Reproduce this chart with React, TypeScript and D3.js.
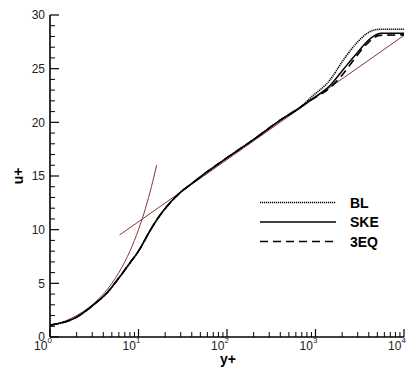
import React from "react";
import * as d3 from "d3";

const W = 414;
const H = 370;

// shared part of all three model profiles (y+, u+)
const commonY = [1, 2, 3, 4.5, 6, 8, 10, 13.5, 17, 22.7, 30, 40, 60, 100, 200, 400, 700];
const commonU = [1.1, 1.85, 2.9, 4.2, 5.5, 6.9, 8.0, 9.9, 11.2, 12.5, 13.5, 14.3, 15.4, 16.7, 18.4, 20.2, 21.5];

const blTailY = [867, 1459, 2061, 2922, 4130, 5355, 10000];
const blTailU = [22.25, 23.95, 25.8, 27.4, 28.45, 28.67, 28.67];

const skeTailY = [900, 1450, 2050, 2900, 4300, 5500, 10000];
const skeTailU = [22.15, 23.4, 24.9, 26.4, 27.9, 28.3, 28.3];

const eqTailY = [900, 1400, 2000, 2700, 3800, 5300, 10000];
const eqTailU = [22.1, 23.1, 24.4, 25.8, 27.3, 28.1, 28.15];

// law of the wall reference lines
const viscY = [1, 1.5, 2, 3, 4, 5, 6, 7, 8, 9, 10, 11, 12, 13, 14, 15, 16];
const viscU = [1, 1.5, 2, 3, 4, 5, 6, 7, 8, 9, 10, 11, 12, 13, 14, 15, 16];
const logY = [6.1, 10000];
const logU = [9.5, 28.1];

const seriesNames = ["BL", "SKE", "3EQ"];
const yTicks = [0, 5, 10, 15, 20, 25, 30];
const xDecades = [0, 1, 2, 3, 4];

const m = { left: 50, right: 404, top: 15, bottom: 337 };

export default function App() {
  const x = d3.scaleLog().domain([1, 10000]).range([m.left, m.right]);
  const y = d3.scaleLinear().domain([0, 30]).range([m.bottom, m.top]);

  const mk = (ys: number[], us: number[]) => ys.map((v, i) => [v, us[i]] as [number, number]);
  const line = d3
    .line<[number, number]>()
    .x((d) => x(d[0]))
    .y((d) => y(d[1]))
    .curve(d3.curveMonotoneX);
  const straight = d3
    .line<[number, number]>()
    .x((d) => x(d[0]))
    .y((d) => y(d[1]));

  const bl = mk(commonY.concat(blTailY), commonU.concat(blTailU));
  const ske = mk(commonY.concat(skeTailY), commonU.concat(skeTailU));
  const eq = mk(commonY.concat(eqTailY), commonU.concat(eqTailU));

  const red = "#8a3535";
  const styles = [
    { dash: "1.2,0.8", w: 1.6 },
    { dash: "none", w: 1.5 },
    { dash: "8,5", w: 1.6 },
  ];
  const curves = [bl, ske, eq];

  const minorX: number[] = [];
  for (let d = 0; d < 4; d++) for (let k = 2; k <= 9; k++) minorX.push(k * Math.pow(10, d));
  const minorY: number[] = [];
  for (let v = 0; v <= 30; v++) if (v % 5 !== 0) minorY.push(v);

  const font = "Arial, 'Liberation Sans', sans-serif";

  return (
    <svg
      width={W}
      height={H}
      style={{ position: "absolute", left: 0, top: 0, background: "#fff" }}
      fontFamily={font}
    >
      <rect width={W} height={H} fill="#fff" />
      {/* reference lines */}
      <path d={line(mk(viscY, viscU)) || ""} fill="none" stroke={red} strokeWidth={1} />
      <path d={straight(mk(logY, logU)) || ""} fill="none" stroke={red} strokeWidth={1} />
      {/* model curves */}
      {curves.map((c, i) => (
        <path
          key={i}
          d={line(c) || ""}
          fill="none"
          stroke="#000"
          strokeWidth={styles[i].w}
          strokeDasharray={styles[i].dash}
        />
      ))}
      {/* axes */}
      <line x1={m.left} x2={m.right} y1={m.bottom} y2={m.bottom} stroke="#000" strokeWidth={1.6} />
      <line x1={m.left} x2={m.left} y1={m.top} y2={m.bottom} stroke="#000" strokeWidth={1.6} />
      {xDecades.map((d) => (
        <line key={"xm" + d} x1={x(Math.pow(10, d))} x2={x(Math.pow(10, d))} y1={m.bottom} y2={m.bottom - 8} stroke="#000" strokeWidth={1.2} />
      ))}
      {minorX.map((v) => (
        <line key={"xn" + v} x1={x(v)} x2={x(v)} y1={m.bottom} y2={m.bottom - 5} stroke="#000" strokeWidth={1} />
      ))}
      {yTicks.map((v) => (
        <line key={"ym" + v} x1={m.left} x2={m.left + 9} y1={y(v)} y2={y(v)} stroke="#000" strokeWidth={1.2} />
      ))}
      {minorY.map((v) => (
        <line key={"yn" + v} x1={m.left} x2={m.left + 5} y1={y(v)} y2={y(v)} stroke="#000" strokeWidth={1} />
      ))}
      {yTicks.map((v) => (
        <text key={"yl" + v} x={m.left - 5} y={y(v)} dy="0.35em" textAnchor="end" fontSize={12} fill="#222">
          {v}
        </text>
      ))}
      {xDecades.map((d) => (
        <text key={"xl" + d} x={x(Math.pow(10, d)) - 7} y={350} textAnchor="middle" fontSize={12} fill="#222">
          10
          <tspan fontSize={8} dy={-7}>
            {d}
          </tspan>
        </text>
      ))}
      {/* axis titles */}
      <text x={228} y={364} textAnchor="middle" fontSize={14} fontWeight="bold">
        y+
      </text>
      <text transform="translate(23,176) rotate(-90)" textAnchor="middle" fontSize={14} fontWeight="bold">
        u+
      </text>
      {/* legend */}
      {seriesNames.map((n, i) => {
        const ly = 202.5 + i * 19.5;
        return (
          <g key={n}>
            <line x1={260} x2={336} y1={ly} y2={ly} stroke="#000" strokeWidth={styles[i].w} strokeDasharray={styles[i].dash} />
            <text x={350} y={ly} dy="0.36em" fontSize={14} fontWeight="bold">
              {n}
            </text>
          </g>
        );
      })}
    </svg>
  );
}
